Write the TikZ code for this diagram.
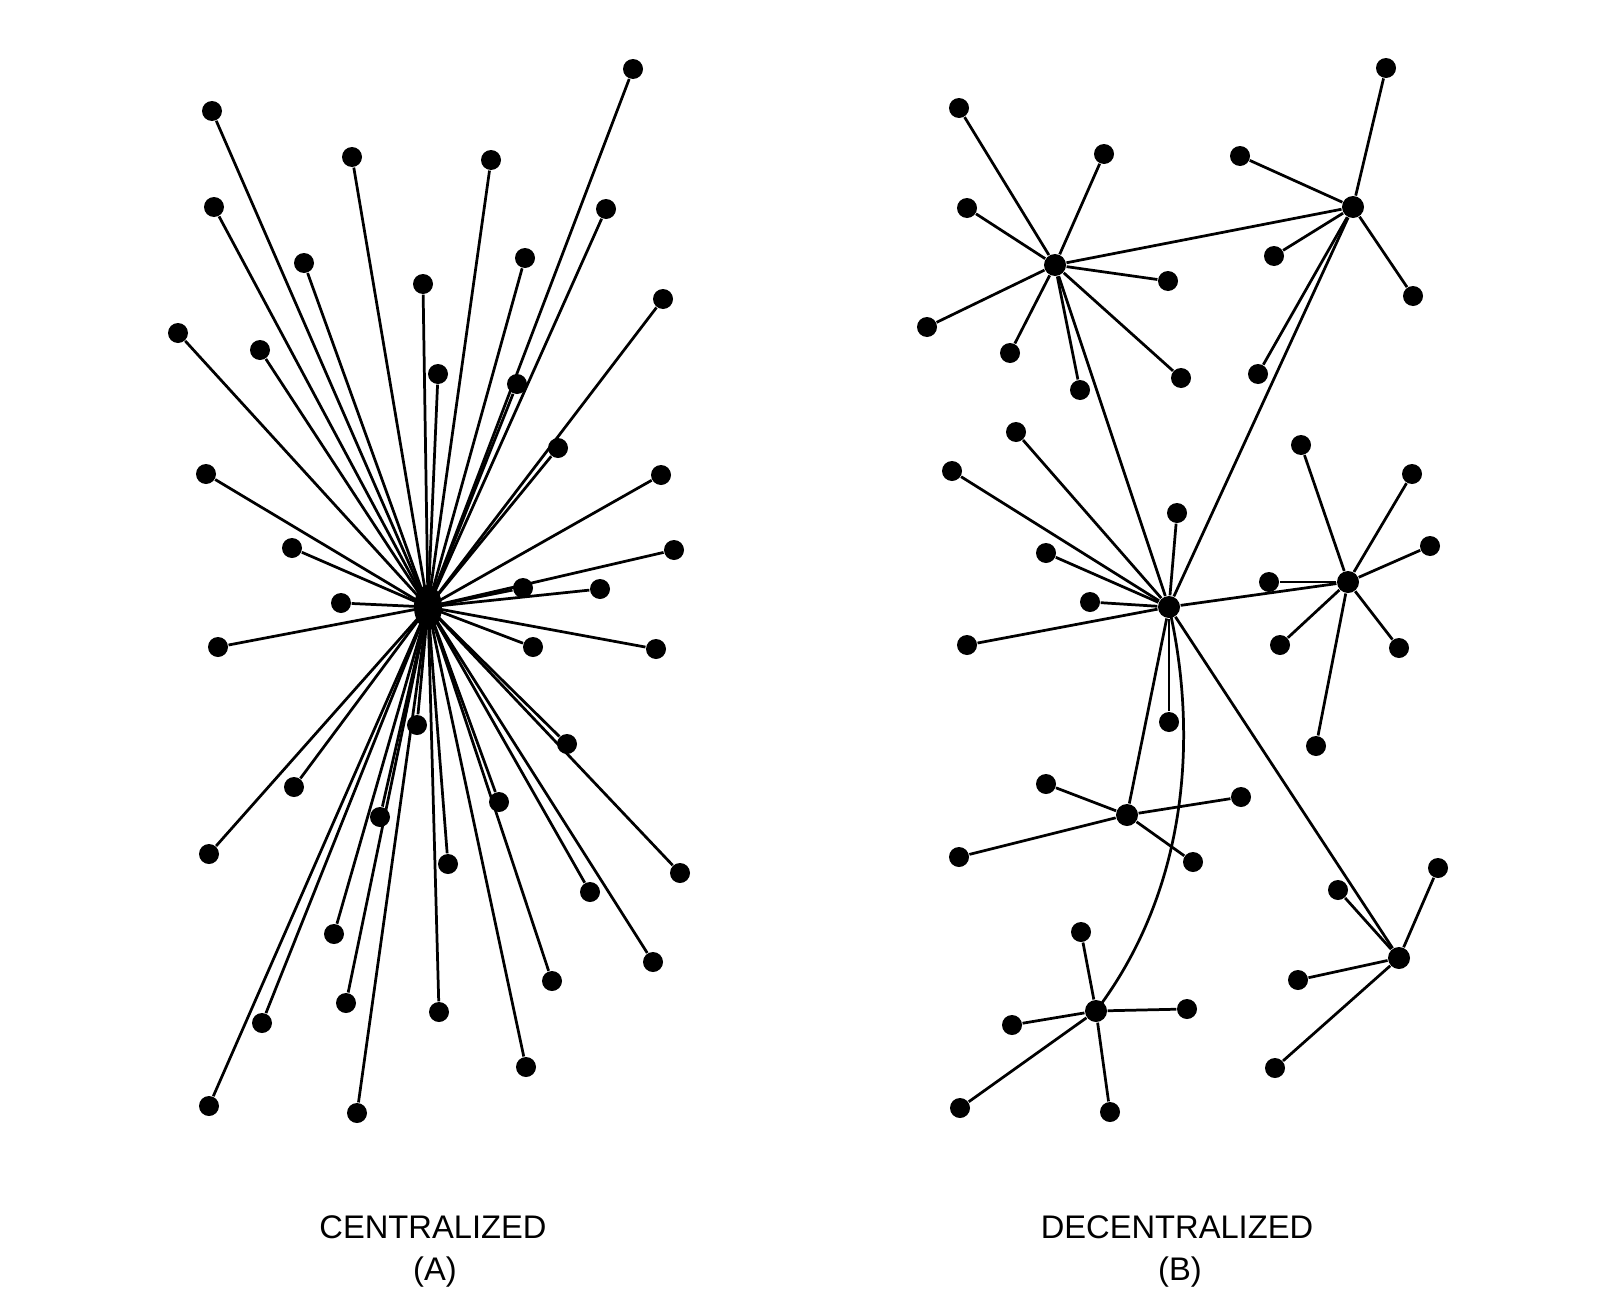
\documentclass[tikz,border=0pt]{standalone}
\usepackage{fontspec}
\setmainfont{Liberation Sans}
\usetikzlibrary{shapes.geometric}

\begin{document}
\begin{tikzpicture}[x=0.1mm, y=-0.1mm,
  punkt/.style={circle, fill=black, inner sep=0pt, minimum size=2.0mm},
  knoten/.style={circle, fill=black, inner sep=0pt, minimum size=2.2mm},
  mitte/.style={ellipse, fill=black, inner sep=0pt, minimum width=2.8mm, minimum height=4.4mm},
  leitung/.style={line width=0.78pt},
  titel/.style={anchor=base, inner sep=0pt, font=\fontsize{9.3}{11}\selectfont}]
% Bildgroesse wie im Original:
\useasboundingbox (0,0) rectangle (1600,1312);

% (A) zentral: alle Punkte haengen am Mittelpunkt
\node[mitte] (z) at (428,607) {};
\foreach \x/\y [count=\i] in {633/69, 212/111, 352/157, 491/160, 214/207, 606/209,
    304/263, 525/258, 423/284, 663/299, 178/333, 260/350, 438/374, 517/384,
    558/448, 206/474, 661/475, 292/548, 674/550, 523/588, 600/589, 341/603,
    218/647, 533/647, 656/649, 417/725, 567/744, 294/787, 499/802, 380/817,
    209/854, 448/864, 590/892, 680/873, 334/934, 653/962, 552/981, 346/1003,
    439/1012, 262/1023, 526/1067, 209/1106, 357/1113}
{
  \node[punkt] (a\i) at (\x,\y) {};
  \draw[leitung] (z.center) -- (a\i);
}

% (B) dezentral: Verteiler
\node[knoten] (b1) at (1055,265) {};
\node[knoten] (b2) at (1353,207) {};
\node[knoten] (b3) at (1169,607) {};
\node[knoten] (b4) at (1348,582) {};
\node[knoten] (b5) at (1127,815) {};
\node[knoten] (b6) at (1096,1011) {};
\node[knoten] (b7) at (1399,958) {};

% Endpunkte an den Verteilern:
\foreach \h/\x/\y [count=\i] in {b1/959/108, b1/1104/154, b1/967/208, b1/1168/281,
    b1/927/327, b1/1010/353, b1/1080/390, b1/1181/378,
    b2/1386/68, b2/1240/156, b2/1274/256, b2/1413/296, b2/1258/374,
    b3/1016/432, b3/952/471, b3/1177/513, b3/1046/553, b3/1090/602,
    b3/967/645, b3/1169/722,
    b4/1301/445, b4/1412/474, b4/1430/546, b4/1269/582, b4/1280/645,
    b4/1399/648, b4/1316/746,
    b5/1046/784, b5/1241/797, b5/959/857, b5/1193/862,
    b6/1081/932, b6/1012/1025, b6/1187/1009, b6/960/1108, b6/1110/1112,
    b7/1438/868, b7/1338/890, b7/1298/980, b7/1275/1068}
{
  \node[punkt] (e\i) at (\x,\y) {};
  \draw[leitung] (\h) -- (e\i);
}

% Verbindungen zwischen den Verteilern:
\draw[leitung] (b1) -- (b2) (b1) -- (b3) (b2) -- (b3)
  (b3) -- (b4) (b3) -- (b5) (b3) -- (b7);
% gebogene Leitung nach unten:
\draw[leitung] (b3.center) .. controls (1195,720) and (1195,880) .. (b6.center);

% Beschriftung:
\node[titel] (ta) at (433,1238) {CENTRALIZED};
\node[titel] (tb) at (435,1280) {(A)};
\node[titel] (tc) at (1177,1238) {DECENTRALIZED};
\node[titel] (td) at (1180,1280) {(B)};
\end{tikzpicture}
\end{document}
